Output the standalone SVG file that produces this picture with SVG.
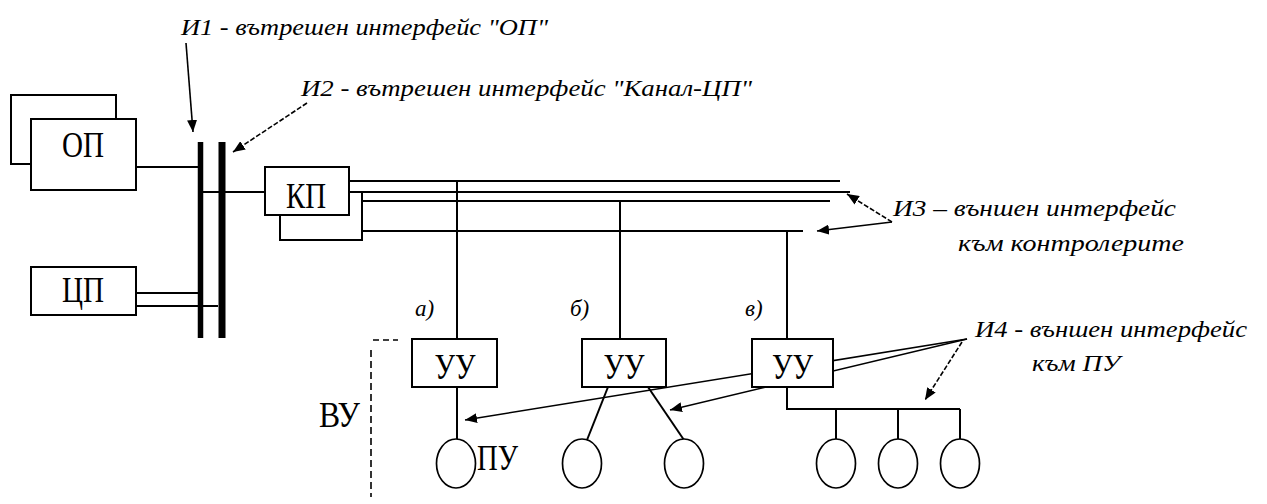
<svg xmlns="http://www.w3.org/2000/svg" width="1267" height="504" viewBox="0 0 1267 504">
  <style>
    .ln { fill: none; stroke: #000; stroke-width: 2; }
    .thin { fill: none; stroke: #000; stroke-width: 1.6; }
    .dash { stroke-dasharray: 5 2; }
    .box { fill: #fff; stroke: #000; stroke-width: 2; }
    .pu { fill: #fff; stroke: #000; stroke-width: 1.7; }
    .mono { font-family: "Liberation Serif", "DejaVu Serif", serif; font-size: 30px; fill: #000; text-anchor: middle; }
    .it { font-family: "Liberation Serif", "DejaVu Serif", serif; font-style: italic; font-size: 23px; fill: #000; }
  </style>
  <defs>
    <marker id="head" markerUnits="userSpaceOnUse" markerWidth="13" markerHeight="10" refX="12" refY="5" orient="auto">
      <path d="M0,0 L12,5 L0,10 z" fill="#000"/>
    </marker>
  </defs>
  <rect width="1267" height="504" fill="#fff"/>

  <!-- wiring: buses, channel lines and drops -->
  <g id="connectors">
    <path class="ln" d="M136 167 H198"/>
    <path class="ln" d="M203 192 H265"/>
    <path class="ln" d="M136 293 H198"/>
    <path class="ln" d="M136 306 H218"/>
    <path d="M200.5 142 V338" stroke="#000" stroke-width="5.5"/>
    <path d="M222 142 V338" stroke="#000" stroke-width="7"/>

    <path class="ln" d="M349 181 H840"/>
    <path class="ln" d="M349 192 H850"/>
    <path class="ln" d="M349 201 H830"/>
    <path class="ln" d="M362 231 H803"/>

    <path class="ln" d="M457 181 V339"/>
    <path class="ln" d="M620 201 V339"/>
    <path class="ln" d="M787 231 V339"/>

    <path class="ln" d="M457 387 V439"/>
    <path class="ln" d="M608 387 L587 440"/>
    <path class="ln" d="M648 387 L684 440"/>
    <path class="ln" d="M787 387 V409 H960"/>
    <path class="ln" d="M836 409 V439"/>
    <path class="ln" d="M898 409 V439"/>
    <path class="ln" d="M960 409 V439"/>

    <!-- interface pointers -->
    <path class="thin" d="M186 43 L193 132" marker-end="url(#head)"/>
    <path class="thin dash" d="M307 103 L233 152" marker-end="url(#head)"/>
    <path class="thin dash" d="M892 222 L847 194" marker-end="url(#head)"/>
    <path class="thin" d="M892 222 L817 231" marker-end="url(#head)"/>
    <path class="thin" d="M967 339 L465 420" marker-end="url(#head)"/>
    <path class="thin" d="M967 339 L670 410" marker-end="url(#head)"/>
    <path class="thin dash" d="M962 342 L925 400" marker-end="url(#head)"/>

    <!-- ВУ boundary -->
    <path class="thin" d="M373 340 H398" stroke-dasharray="6 4"/>
    <path class="thin" d="M371 350 V497" stroke-dasharray="7 4"/>
  </g>

  <g id="op">
    <rect class="box" x="11" y="95" width="105" height="69"/>
    <rect class="box" x="31" y="119" width="105" height="71"/>
    <text class="mono" transform="translate(83,157) scale(1,1.2)" textLength="42" lengthAdjust="spacingAndGlyphs">ОП</text>
  </g>

  <g id="cp">
    <rect class="box" x="31" y="267" width="105" height="48"/>
    <text class="mono" transform="translate(83,302) scale(1,1.2)" textLength="42" lengthAdjust="spacingAndGlyphs">ЦП</text>
  </g>

  <g id="kp">
    <rect class="box" x="280" y="192" width="82" height="48"/>
    <rect class="box" x="265" y="167" width="84" height="48"/>
    <text class="mono" transform="translate(306,208) scale(1,1.2)" textLength="40" lengthAdjust="spacingAndGlyphs">КП</text>
  </g>

  <g id="uu-a">
    <rect class="box" x="412" y="339" width="85" height="48"/>
    <text class="mono" transform="translate(455,379) scale(1,1.2)" textLength="41" lengthAdjust="spacingAndGlyphs">УУ</text>
    <text class="it" x="415" y="316" font-size="20">а)</text>
  </g>

  <g id="uu-b">
    <rect class="box" x="582" y="339" width="84" height="48"/>
    <text class="mono" transform="translate(624,379) scale(1,1.2)" textLength="41" lengthAdjust="spacingAndGlyphs">УУ</text>
    <text class="it" x="570" y="316" font-size="20">б)</text>
  </g>

  <g id="uu-c">
    <rect class="box" x="752" y="339" width="81" height="48"/>
    <text class="mono" transform="translate(792.5,379) scale(1,1.2)" textLength="41" lengthAdjust="spacingAndGlyphs">УУ</text>
    <text class="it" x="745" y="316" font-size="20">в)</text>
  </g>

  <g id="pu">
    <ellipse class="pu" cx="456" cy="463.5" rx="19.5" ry="24.5"/>
    <ellipse class="pu" cx="582" cy="463.5" rx="19.5" ry="24.5"/>
    <ellipse class="pu" cx="684" cy="463.5" rx="19.5" ry="24.5"/>
    <ellipse class="pu" cx="836" cy="463.5" rx="19.5" ry="24.5"/>
    <ellipse class="pu" cx="898" cy="463.5" rx="19.5" ry="24.5"/>
    <ellipse class="pu" cx="960" cy="463.5" rx="19.5" ry="24.5"/>
    <text class="mono" transform="translate(497.5,470) scale(1,1.2)" textLength="41" lengthAdjust="spacingAndGlyphs">ПУ</text>
  </g>

  <g id="vu">
    <text class="mono" transform="translate(339.5,427) scale(1,1.2)" textLength="41" lengthAdjust="spacingAndGlyphs">ВУ</text>
  </g>

  <g id="labels">
    <text class="it" x="181" y="35" textLength="367" lengthAdjust="spacingAndGlyphs">И1 - вътрешен интерфейс "ОП"</text>
    <text class="it" x="301" y="96" textLength="451" lengthAdjust="spacingAndGlyphs">И2 - вътрешен интерфейс "Канал-ЦП"</text>
    <text class="it" x="893" y="216" textLength="283" lengthAdjust="spacingAndGlyphs">И3 – външен интерфейс</text>
    <text class="it" x="958" y="251" textLength="226" lengthAdjust="spacingAndGlyphs">към контролерите</text>
    <text class="it" x="975" y="337" textLength="272" lengthAdjust="spacingAndGlyphs">И4 - външен интерфейс</text>
    <text class="it" x="1032" y="371" textLength="88" lengthAdjust="spacingAndGlyphs">към ПУ</text>
  </g>
</svg>
